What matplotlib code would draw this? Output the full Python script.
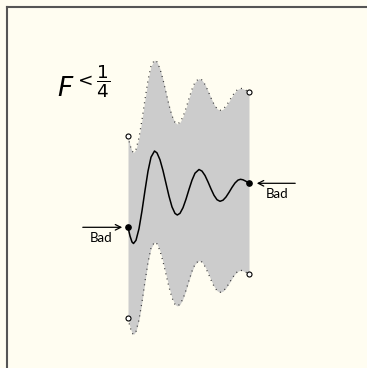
import matplotlib.pyplot as plt
import numpy as np

xs = [128, 130, 132, 133.5, 136, 139, 142, 145, 148, 151, 154.5,
      157, 160, 163, 166, 169, 172, 175, 177.3,
      180, 183, 186, 189, 192, 195, 199,
      202, 205, 208, 211, 214, 217, 220,
      223, 226, 229, 232, 235, 238, 240.5, 243, 246, 249]
ys = [227.3, 236, 242, 243.5, 240.3, 228.7, 210.8, 190.4, 171.2, 157.2, 151,
      152.9, 159.8, 170.6, 183.4, 196.2, 206.9, 213.4, 215,
      213.3, 207.7, 199.2, 189.4, 180.2, 173.2, 169.5,
      171.1, 175.5, 181.9, 188.9, 195.3, 199.7, 201.3,
      200.2, 197.0, 192.4, 187.4, 183.0, 180.1, 179.3, 179.8, 181.3, 183.3]
spread = 91  # half height of the grey band

bad_label = 'Bad'
title = r'$F^{<\dfrac{1}{4}}$'

xs = np.array(xs)
ys = np.array(ys)
upper = ys - spread
lower = ys + spread

bg = '#fffdf1'
plt.rcParams['mathtext.fontset'] = 'dejavusans'
fig = plt.figure(figsize=(3.67, 3.68), dpi=100, facecolor=bg)

# frame: only left and top edges show in the picture
frame = fig.add_axes([7 / 367, 0, 1, 1 - 7 / 368], facecolor='none')
for s in ['right', 'bottom']:
    frame.spines[s].set_visible(False)
for s in ['left', 'top']:
    frame.spines[s].set_color('#555555')
    frame.spines[s].set_linewidth(1.5)
frame.set_xticks([])
frame.set_yticks([])

ax = fig.add_axes([0, 0, 1, 1], facecolor='none')
ax.set_xlim(0, 367)
ax.set_ylim(368, 0)
ax.axis('off')

ax.fill_between(xs, upper, lower, color='#cccccc', lw=0)
ax.plot(xs, upper, color='#333333', lw=0.9, ls=(0, (0.8, 3.4)))
ax.plot(xs, lower, color='#333333', lw=0.9, ls=(0, (0.8, 3.4)))
ax.plot(xs, ys, color='black', lw=1.1)

# end points
ax.plot([xs[0], xs[-1]], [ys[0], ys[-1]], 'o', color='black', ms=3.8)
ax.plot([xs[0], xs[-1], xs[0], xs[-1]], [upper[0], upper[-1], lower[0], lower[-1]],
        'o', mfc='white', mec='black', mew=0.8, ms=3.6)

# arrows + labels
ax.annotate('', xy=(xs[0] - 3, ys[0]), xytext=(xs[0] - 48, ys[0]),
            arrowprops=dict(arrowstyle='->', lw=0.9, color='black'))
ax.annotate('', xy=(xs[-1] + 5, ys[-1]), xytext=(xs[-1] + 49, ys[-1]),
            arrowprops=dict(arrowstyle='->', lw=0.9, color='black'))
ax.text(xs[0] - 27, ys[0] + 11, bad_label, fontsize=9.5, family='Lato',
        ha='center', va='center')
ax.text(xs[-1] + 28, ys[-1] + 11, bad_label, fontsize=9.5, family='Lato',
        ha='center', va='center')

ax.text(57, 84, title, fontsize=19, ha='left', va='center')

plt.savefig('out.png', dpi=100, facecolor=bg)
